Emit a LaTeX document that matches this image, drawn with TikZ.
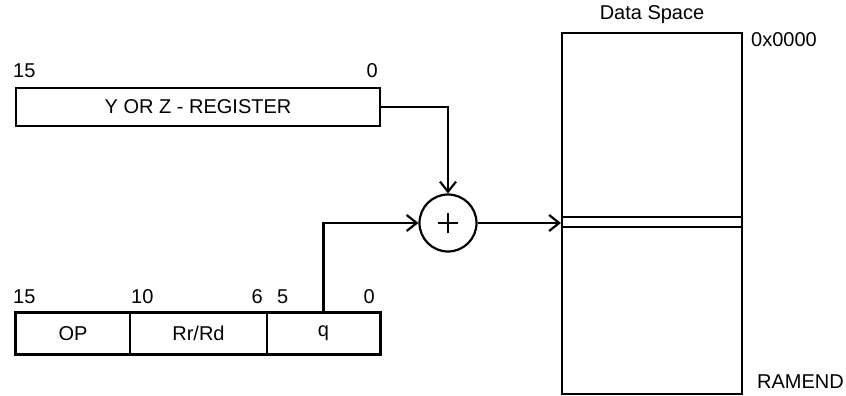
\documentclass[tikz,border=0pt]{standalone}
\usepackage{fontspec}
\setmainfont{Liberation Sans}
\usetikzlibrary{arrows.meta}
\begin{document}
\begin{tikzpicture}[x=1pt,y=-1pt,
  box/.style={draw,line width=2.2pt,inner sep=0pt,minimum height=#1},
  field/.style={draw,line width=1.4pt,inner sep=0pt,minimum height=41pt},
  lbl/.style={inner sep=0pt,font=\fontsize{20}{22}\selectfont},
  conn/.style={line width=2.2pt,-{Straight Barb[length=10pt,width=16pt,line width=2.2pt]}},
  thin/.style={line width=1.4pt}
]
\useasboundingbox (0,0) rectangle (846,396);
% Y or Z register
\node[box=38pt,minimum width=364pt,lbl] (yreg) at (198,107) {Y OR Z - REGISTER};
\node[lbl,anchor=west] (y15) at (13,71) {15};
\node[lbl,anchor=east] (y0) at (378,71) {0};
% instruction word
\node[field,minimum width=114pt,lbl] (op) at (73,333.5) {OP};
\node[field,minimum width=137pt,lbl] (rr) at (198.5,333.5) {Rr/Rd};
\node[field,minimum width=113pt,lbl] (qf) at (323.5,333.5) {q};
\draw[line width=2.2pt] (op.north west) rectangle (qf.south east);
\node[lbl,anchor=west] (b15) at (13,297) {15};
\node[lbl,anchor=west] (b10) at (131,297) {10};
\node[lbl,anchor=east] (b6) at (263,297) {6};
\node[lbl,anchor=west] (b5) at (277,297) {5};
\node[lbl,anchor=east] (b0) at (375,297) {0};
% adder
\node[draw,circle,line width=2.2pt,minimum size=57pt,inner sep=0pt] (sum) at (448,223) {};
\draw[line width=1.2pt] ([xshift=-10pt]sum.center) -- ([xshift=10pt]sum.center)
  ([yshift=-10pt]sum.center) -- ([yshift=10pt]sum.center);
% data space
\node[draw,line width=2.2pt,minimum width=180pt,minimum height=361pt,inner sep=0pt] (ds) at (652,213.5) {};
\coordinate (d1) at (ds.west |- 0,217);
\coordinate (d2) at (ds.west |- 0,227);
\draw[thin] (d1) -- (d1 -| ds.east);
\draw[thin] (d2) -- (d2 -| ds.east);
\node[lbl] (dsl) at (652,15) {Data Space};
\node[lbl,anchor=west] (addr0) at (751,40) {0x0000};
\node[lbl,anchor=west] (ramend) at (757,382) {RAMEND};
% connectors
\draw[conn] (yreg.east) -| (sum.north);
\draw[conn] (qf.north) |- (sum.west);
\draw[conn] (sum.east) -- (ds.west |- sum.east);
\end{tikzpicture}
\end{document}
